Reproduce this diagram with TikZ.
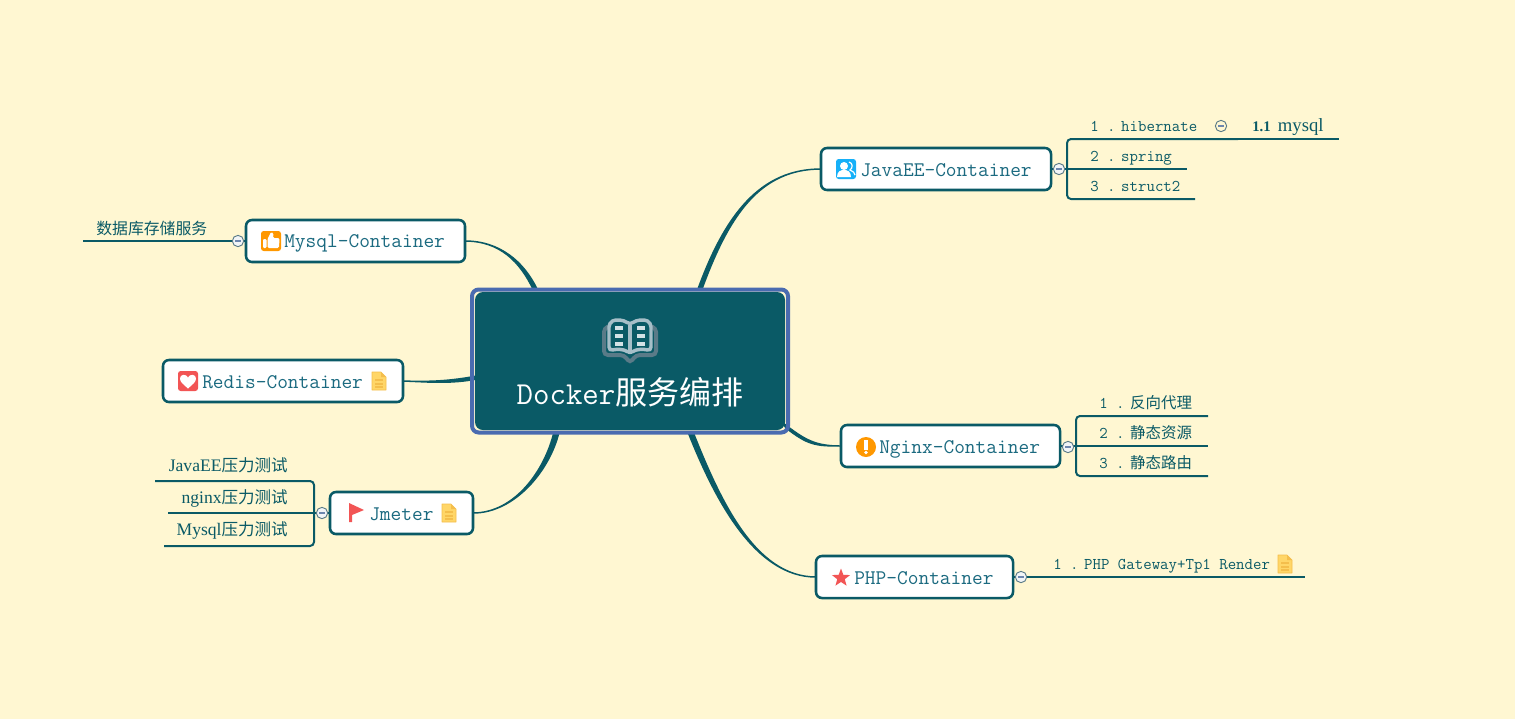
\documentclass[tikz,border=0pt]{standalone}
\usepackage{fontspec}
\usetikzlibrary{shapes.geometric,calc}
\newfontfamily\cjk{Noto Sans CJK SC}
\newfontfamily\leafserif{Liberation Serif}
\def\px{.75pt}
\definecolor{paper}{HTML}{FFF7D2}
\definecolor{teal}{HTML}{0A5A66}
\definecolor{topicink}{HTML}{1B6A80}
\definecolor{frameblue}{HTML}{4A6BB0}
\definecolor{minusblue}{HTML}{6C86AE}
\definecolor{notey}{HTML}{FFD668}
\definecolor{noteo}{HTML}{F4BE4C}
\definecolor{redicon}{HTML}{F25555}
\definecolor{orangeicon}{HTML}{FF9800}
\definecolor{blueicon}{HTML}{16B0F8}
\definecolor{bookdark}{HTML}{5A7B88}
\definecolor{bookmid}{HTML}{A6BFC8}
\definecolor{booklight}{HTML}{D3E2E6}
\newcommand{\branch}[5]{\filldraw[teal,line width=1.1pt,line join=round] (#1) .. controls (#2) and (#3) .. (#4) -- (#5) .. controls ($(#3)+(#5)-(#4)$) and ($(#2)!.7!(#2)$) .. (#1);}
\newcommand{\minusbar}{\textcolor{minusblue}{\rule[-.45pt]{4.4pt}{.9pt}}}
\newcommand{\leafnum}[1]{#1 .\kern 4.2pt}
\tikzset{
  notepic/.pic={
    \fill[notey,draw=noteo,line width=.5pt,line join=round] (-7,-9) -- (2,-9) -- (7,-4) -- (7,9) -- (-7,9) -- cycle;
    \fill[noteo] (2,-9) -- (2,-4) -- (7,-4) -- cycle;
    \foreach \y in {-1,3,6} \draw[noteo,line width=.8pt] (-4,\y) -- (4,\y);
  },
  userpic/.pic={
    \fill[blueicon,rounded corners=2pt] (-10,-10) rectangle (10,10);
    \fill[white] (-2,-3) circle (4);
    \fill[white] (-9,8) .. controls (-9,2) and (-5,1) .. (-2,1) .. controls (1,1) and (5,2) .. (5,8) -- cycle;
    \draw[white,line width=.9pt] (3,-7) .. controls (7,-6) and (7,-1) .. (4,1) .. controls (7,2) and (9,4) .. (9,6);
  },
  thumbpic/.pic={
    \fill[orangeicon,rounded corners=2pt] (-10,-10) rectangle (10,10);
    \fill[white,rounded corners=.8pt] (-8,-2) rectangle (-4.5,7);
    \fill[white,rounded corners=1pt] (-3.5,-2) -- (0,-9) -- (2.5,-8) -- (2,-3) -- (8.5,-3) -- (8,7) -- (-3.5,7) -- cycle;
  },
  heartpic/.pic={
    \fill[redicon,rounded corners=2pt] (-10,-10) rectangle (10,10);
    \fill[white] (0,7.5) .. controls (-5,3) and (-8,1) .. (-8,-2.5) .. controls (-8,-7) and (-2,-7.5) .. (0,-3.5) .. controls (2,-7.5) and (8,-7) .. (8,-2.5) .. controls (8,1) and (5,3) .. (0,7.5) -- cycle;
  },
  warnpic/.pic={
    \fill[orangeicon] (0,0) circle (10);
    \fill[white] (-1.7,-7) rectangle (1.7,2.5);
    \fill[white] (0,5.5) circle (1.9);
  },
  flagpic/.pic={
    \fill[redicon] (-7,-10) -- (8,-3) -- (-4,2) -- (-4,9) -- (-7,9) -- cycle;
  },
  bookpic/.pic={
    \draw[bookdark,line width=3pt,rounded corners=3pt]
      (-20,-14) -- (-26,-12) -- (-26,15) -- (-6,15) -- (0,23) -- (6,15) -- (26,15) -- (26,-12) -- (20,-14);
    \draw[bookmid,line width=2.6pt,rounded corners=3pt]
      (0,14) .. controls (-6,9) and (-14,9) .. (-21,11) -- (-21,-17) .. controls (-14,-21) and (-6,-20) .. (0,-15)
      .. controls (6,-20) and (14,-21) .. (21,-17) -- (21,11) .. controls (14,9) and (6,9) .. (0,14) -- cycle;
    \draw[bookmid,line width=2.6pt] (0,-15) -- (0,14);
    \foreach \y in {-12,-4,4} {
      \fill[booklight] (-15,\y-2) rectangle (-7,\y+2);
      \fill[booklight] (7,\y-2) rectangle (15,\y+2);
    }
  }
}

\begin{document}
\begin{tikzpicture}[x=.75pt,y=-.75pt,
    topic/.style={draw=teal,fill=white,line width=1.9pt,rounded corners=4.5pt,inner sep=0pt,outer sep=0pt,minimum height=31.5pt},
    topictext/.style={anchor=base west,inner sep=0pt,text=topicink,font=\fontsize{15.6}{16}\ttfamily},
    leaf/.style={anchor=base west,inner sep=0pt,text=teal,font=\fontsize{12.3}{14}\ttfamily},
    leafcn/.style={inner sep=0pt,text=teal,font=\fontsize{13.2}{14}\leafserif},
    twig/.style={draw=teal,line width=1.5pt},
    collapse/.style={circle,draw=bookdark,fill=white!85!bookmid,line width=.7pt,inner sep=0pt,outer sep=0pt,minimum size=8.5pt}]

  \useasboundingbox (0,0) rectangle (1515,719);
  \fill[paper] (0,0) rectangle (1515,719);

  \node[fill=teal,rounded corners=6pt,inner sep=0pt,outer sep=0pt,minimum width=310*\px,minimum height=138*\px] (root) at (630,361) {};

  % topics on the right
  \node[topic,minimum width=230*\px] (javaee) at (936,169) {};
  \node[topic,minimum width=219*\px] (nginx)  at (950.5,446) {};
  \node[topic,minimum width=197*\px] (php)    at (914.5,577) {};
  % topics on the left
  \node[topic,minimum width=219*\px] (mysql)  at (355.5,241) {};
  \node[topic,minimum width=240*\px] (redis)  at (283,381) {};
  \node[topic,minimum width=143*\px] (jmeter) at (401.5,513) {};

  % branches, thin at the topic and wide at the root
  \branch{javaee.west}{760,169}{725,215}{[shift={(68,-3)}]root.north}{[shift={(72,-3)}]root.north}
  \branch{nginx.west}{815,446}{805,440}{[shift={(-2,-7)}]root.south east}{[shift={(1,-2)}]root.south east}
  \branch{php.west}{755,577}{715,500}{[shift={(58,2)}]root.south}{[shift={(63,2)}]root.south}
  \branch{mysql.east}{500,241}{520,262}{[shift={(-97,-3)}]root.north}{[shift={(-93,-3)}]root.north}
  \branch{redis.east}{430,382}{450,381}{[shift={(2,15)}]root.west}{[shift={(2,18)}]root.west}
  \branch{jmeter.east}{515,513}{545,470}{[shift={(-76,2)}]root.south}{[shift={(-71,2)}]root.south}

  \draw[frameblue,line width=3pt,rounded corners=5pt] ([shift={(-3,-2.5)}]root.north west) rectangle ([shift={(3,2.5)}]root.south east);

  \pic at (630,340) {bookpic};
  \node[inner sep=0pt,text=white,font=\fontsize{24}{26}\ttfamily] (title) at (630,392) {Docker{\cjk 服务编排}};

  % text and icons of the topics
  \pic at (846,169) {userpic};
  \node[topictext] (javaeetext) at (860,176) {JavaEE-Container};
  \pic at (866,447) {warnpic};
  \node[topictext] (nginxtext) at (879,453.5) {Nginx-Container};
  \node[star,star points=5,star point ratio=2.4,fill=redicon,inner sep=0pt,minimum size=19*\px] (phpstar) at (841,578) {};
  \node[topictext] (phptext) at (854,584) {PHP-Container};
  \pic at (271,241) {thumbpic};
  \node[topictext] (mysqltext) at (284,247.5) {Mysql-Container};
  \pic at (188,381) {heartpic};
  \node[topictext] (redistext) at (202,388) {Redis-Container};
  \pic at (379,381) {notepic};
  \pic at (356,513) {flagpic};
  \node[topictext] (jmetertext) at (369,520.5) {Jmeter};
  \pic at (449,513) {notepic};

  % collapse marks and twigs
  \coordinate (hibend)  at (1238,139);
  \coordinate (sqlend)  at (1339,139);
  \coordinate (sprend)  at (1187,169);
  \coordinate (strend)  at (1195,199);
  \coordinate (jbranch) at (1067,169);
  \draw[twig,rounded corners=3pt] (hibend) -| (jbranch) |- (strend);
  \draw[twig] (hibend) -- (sqlend);
  \draw[twig] (javaee.east) -- (sprend);

  \coordinate (revend) at (1208,416);
  \coordinate (resend) at (1208,446);
  \coordinate (rouend) at (1208,476);
  \coordinate (nbranch) at (1076,446);
  \draw[twig,rounded corners=3pt] (revend) -| (nbranch) |- (rouend);
  \draw[twig] (nginx.east) -- (resend);

  \coordinate (gateend) at (1305,577);
  \draw[twig] (php.east) -- (gateend);

  \coordinate (dbend) at (83,241);
  \draw[twig] (mysql.west) -- (dbend);

  \coordinate (eeend) at (155,481);
  \coordinate (ngend) at (168,513);
  \coordinate (myend) at (164,546);
  \coordinate (tbranch) at (314,513);
  \draw[twig,rounded corners=3pt] (eeend) -| (tbranch) |- (myend);
  \draw[twig] (jmeter.west) -- (ngend);

  \node[collapse] (jcollapse) at (1059,169) {\minusbar};
  \node[collapse] (ncollapse) at (1068,447) {\minusbar};
  \node[collapse] (pcollapse) at (1021,577) {\minusbar};
  \node[collapse] (mcollapse) at (238,241) {\minusbar};
  \node[collapse] (tcollapse) at (322,513) {\minusbar};
  \node[collapse,fill=none] (hcollapse) at (1221,126) {\minusbar};

  % leaves
  \node[leaf] (hib) at (1090,131) {\leafnum{1}hibernate};
  \node[leaf] (spr) at (1090,161) {\leafnum{2}spring};
  \node[leaf] (str) at (1090,191) {\leafnum{3}struct2};
  \node[leafcn,anchor=base west,font=\leafserif] (sql) at (1252,131) {{\fontsize{11}{14}\selectfont\bfseries 1.1}\kern 5.5pt{\fontsize{14}{14}\selectfont mysql}};

  \node[leaf] (rev) at (1099,408) {\leafnum{1}{\fontsize{11.6}{14}\cjk 反向代理}};
  \node[leaf] (res) at (1099,438) {\leafnum{2}{\fontsize{11.6}{14}\cjk 静态资源}};
  \node[leaf] (rou) at (1099,468) {\leafnum{3}{\fontsize{11.6}{14}\cjk 静态路由}};

  \node[leaf] (gate) at (1053,569) {\leafnum{1}PHP Gateway+Tp1 Render};
  \pic at (1285,564) {notepic};

  \node[leafcn,anchor=west,font=\fontsize{11.9}{14}\cjk] (db) at (96,228) {数据库存储服务};
  \node[leafcn,anchor=base east] (ee) at (288,471) {JavaEE{\fontsize{12.4}{14}\cjk 压力测试}};
  \node[leafcn,anchor=base east] (ng) at (288,503) {nginx{\fontsize{12.4}{14}\cjk 压力测试}};
  \node[leafcn,anchor=base east] (my) at (288,535.5) {Mysql{\fontsize{12.4}{14}\cjk 压力测试}};
\end{tikzpicture}
\end{document}
